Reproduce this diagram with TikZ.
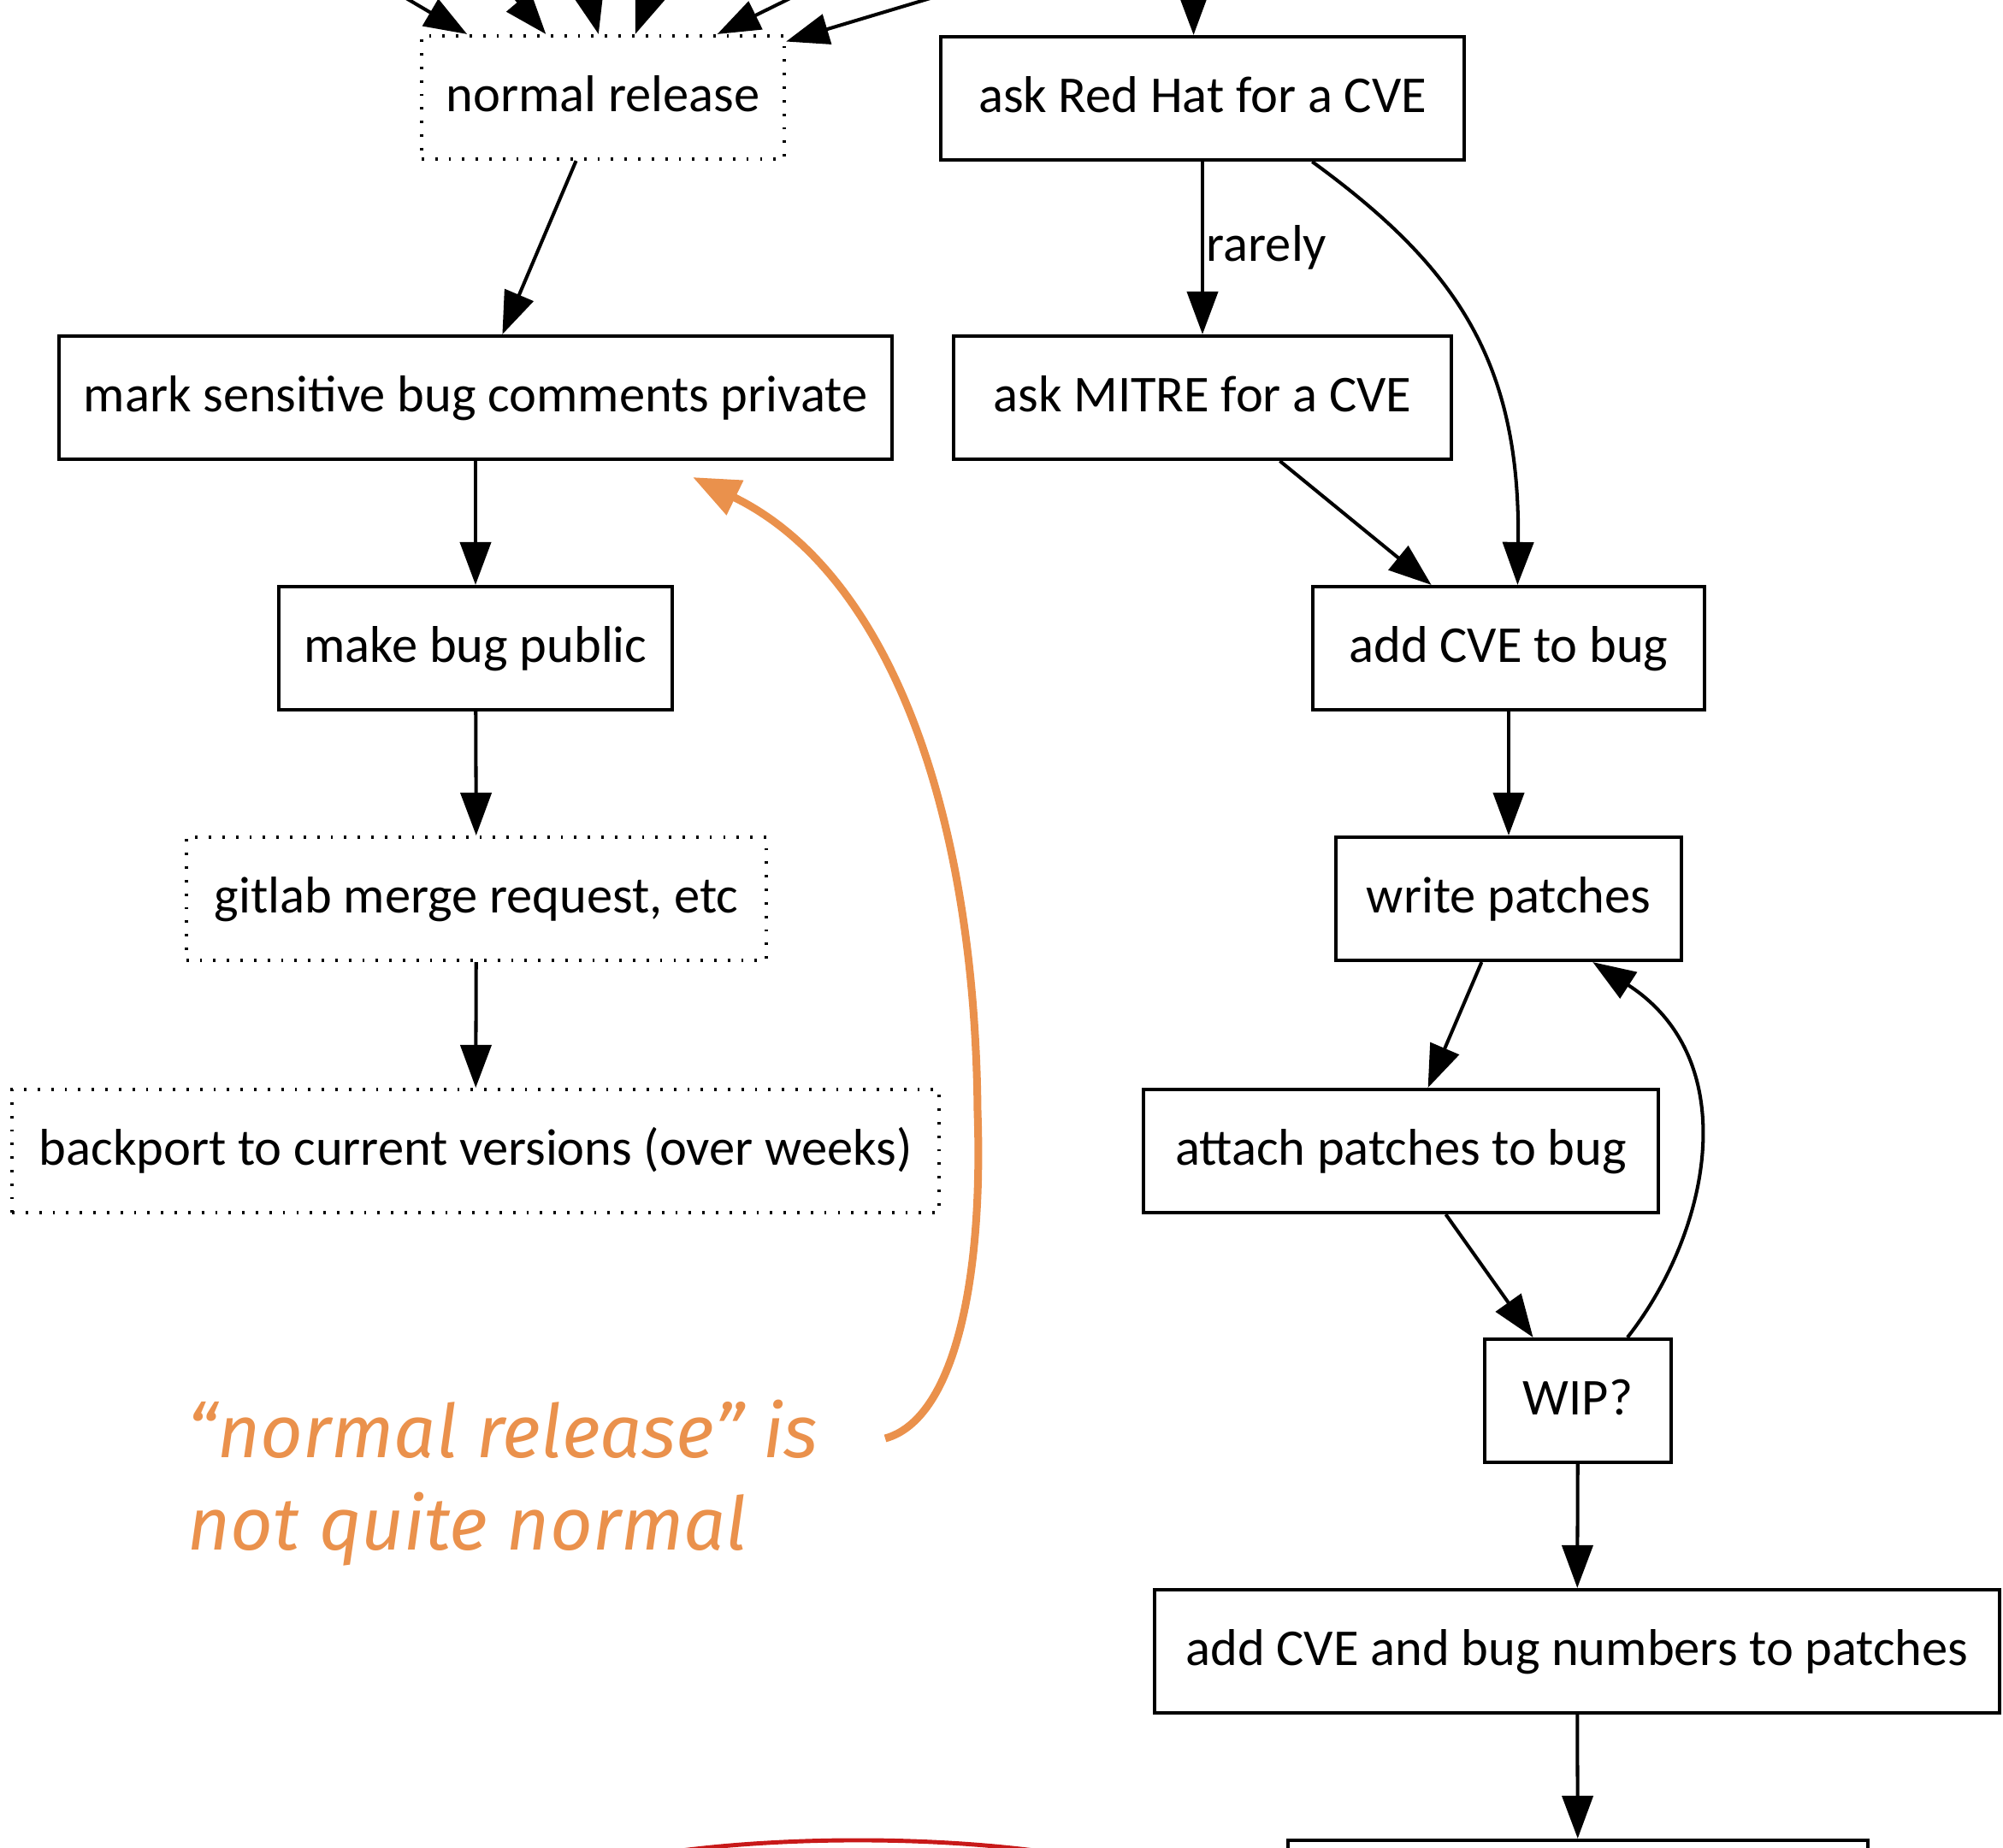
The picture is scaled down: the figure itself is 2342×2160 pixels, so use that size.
\documentclass[tikz,border=0pt]{standalone}
\usepackage{fontspec}
\setmainfont{Carlito}
\newfontfamily\notefont{Fira Sans}
\usetikzlibrary{arrows.meta,shapes.geometric}
\definecolor{noteorange}{RGB}{234,145,76}
\definecolor{goalred}{RGB}{200,25,25}
\begin{document}
\begin{tikzpicture}[x=0.01cm, y=-0.01cm,
  box/.style={draw, line width=1.15pt, rectangle, minimum height=1.44cm, inner sep=0pt,
    text height=13.9pt, text depth=4.3pt, font=\fontsize{17.2}{20}\selectfont},
  dotbox/.style={box, dash pattern=on 0.8pt off 3.7pt},
  edge/.style={line width=1.15pt, -{Triangle[length=0.5cm,width=0.36cm]}},
  lbl/.style={inner sep=0pt, font=\fontsize{17.2}{20}\selectfont},
  note/.style={inner sep=0pt, text=noteorange, align=left,
    font=\notefont\itshape\fontsize{24.6}{30.7}\selectfont},
  notearrow/.style={draw=noteorange, line width=0.09cm,
    -{Triangle[length=0.55cm,width=0.43cm]}}]
\useasboundingbox (0,0) rectangle (2342,2160);
\clip (0,0) rectangle (2342,2160);

% left column: the release path
\node[dotbox, minimum width=4.24cm] (nr) at (705,114) {normal release};
\node[box, minimum width=9.74cm] (ms) at (556,465) {mark sensitive bug comments private};
\node[box, minimum width=4.60cm] (pub) at (556,758) {make bug public};
\node[dotbox, minimum width=6.78cm] (mr) at (557,1051) {gitlab merge request, etc};
\node[dotbox, minimum width=10.83cm] (bp) at (556,1346) {backport to current versions (over weeks)};

% right column: CVE and patches
\node[box, minimum width=6.11cm] (rh) at (1406,115) {ask Red Hat for a CVE};
\node[box, minimum width=5.81cm] (mitre) at (1406,465) {ask MITRE for a CVE};
\node[box, minimum width=4.57cm] (cve) at (1764,758) {add CVE to bug};
\node[box, minimum width=4.04cm] (wp) at (1764,1051) {write patches};
\node[box, minimum width=6.01cm] (att) at (1638,1346) {attach patches to bug};
\node[box, minimum width=2.18cm] (wip) at (1845,1638) {WIP?};
\node[box, minimum width=9.87cm] (nums) at (1844,1931) {add CVE and bug numbers to patches};
\node[box, minimum width=6.78cm] (next) at (1845,2224) {};

% goal ellipse further down
\node[ellipse, draw=goalred, line width=1.4pt, minimum width=9.0cm, minimum height=2.16cm,
  inner sep=0pt] (goal) at (1003,2260) {};

% edges arriving from above
\coordinate (in1) at (224,-150);
\coordinate (in2) at (478,-150);
\coordinate (in3) at (653,-150);
\coordinate (in4) at (814,-150);
\coordinate (in5) at (1225,-150);
\coordinate (in6) at (1581,-150);
\coordinate (in7) at (1395,-150);
\draw[edge] (in1) -- (nr.155.8);
\draw[edge] (in2) -- (nr.132.9);
\draw[edge] (in3) -- (nr.94.8);
\draw[edge] (in4) -- (nr.63.4);
\draw[edge] (in5) -- (nr.29.6);
\draw[edge] (in6) -- (nr.17.3);
\draw[edge] (in7) -- (rh.98.7);

% left column edges
\draw[edge] (nr) -- (ms);
\draw[edge] (ms) -- (pub);
\draw[edge] (pub) -- (mr);
\draw[edge] (mr) -- (bp);

% right column edges
\draw[edge] (rh) -- (mitre);
\node[lbl, anchor=base west] (rarely) at (1410,305) {rarely};
\draw[edge] (rh.-30.5) .. controls (1700,310) and (1778,420) .. (cve.82);
\draw[edge] (mitre) -- (cve);
\draw[edge] (cve) -- (wp);
\draw[edge] (wp) -- (att);
\draw[edge] (att) -- (wip);
\draw[edge] (wip.52) .. controls (2000,1440) and (2040,1240) .. (wp.-37.7);
\draw[edge] (wip) -- (nums);
\draw[edge] (nums) -- (next);

% annotation
\node[note, anchor=north west] (remark) at (219,1636) {“normal release” is\\not quite normal};
\draw[notearrow] (1035,1682) .. controls (1115,1660) and (1150,1500) .. (1143,1300)
  .. controls (1140,950) and (1040,670) .. (810,558);
\end{tikzpicture}
\end{document}
